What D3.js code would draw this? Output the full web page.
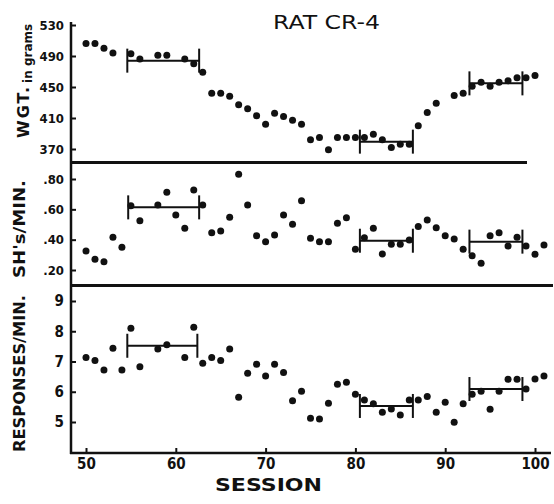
<!DOCTYPE html>
<html>
<head>
<script src="https://d3js.org/d3.v7.min.js"></script>
<style>
  body { margin: 0; background: #fff; }
  text { font-family: "DejaVu Sans", sans-serif; fill: #111; }
</style>
</head>
<body>
<div id="chart"></div>
<script>

// ---- data ----
var sessionTicks = [50, 60, 70, 80, 90, 100];

// body weight (grams)
var wgtSession = [50,51,52,53,55,56,58,59,61,62,63,64,65,66,67,68,69,70,71,72,73,74,75,76,77,78,79,80,81,82,83,84,85,86,87,88,89,91,92,93,94,95,96,97,98,99,100];
var wgtValue   = [506,506,500,494,493,486,491,491,486,480,469,442,442,438,427,422,413,402,416,412,407,402,382,385,369,385,385,385,385,389,382,372,376,376,400,417,429,439,442,451,456,451,456,458,462,462,465];
var wgtTicks = [370, 410, 450, 490, 530];
var wgtBars = [[54.6, 62.6, 484], [80.5, 86.4, 379.5], [92.7, 98.6, 454.7]];

// shocks per minute
var shSession = [50,51,52,53,54,55,56,58,59,60,61,62,63,64,65,66,67,68,69,70,71,72,73,74,75,76,77,78,79,80,81,82,83,84,85,86,87,88,89,90,91,92,93,94,95,96,97,98,99,100,101];
var shValue   = [.325,.271,.255,.416,.35,.624,.525,.629,.712,.563,.475,.727,.629,.446,.457,.547,.831,.629,.426,.387,.431,.563,.501,.657,.409,.387,.387,.508,.545,.336,.413,.475,.306,.369,.369,.398,.486,.53,.479,.426,.404,.336,.294,.244,.426,.446,.358,.416,.358,.304,.365];
var shTicks = [.2, .4, .6, .8];
var shBars = [[54.7, 62.6, .613], [80.5, 86.4, .393], [92.7, 98.6, .387]];

// responses per minute
var respSession = [50,51,52,53,54,55,56,58,59,61,62,63,64,65,66,67,68,69,70,71,72,73,74,75,76,77,78,79,80,81,82,83,84,85,86,87,88,89,90,91,92,93,94,95,96,97,98,99,100,101];
var respValue   = [7.13,7.03,6.72,7.44,6.72,8.10,6.83,7.41,7.55,7.13,8.13,6.94,7.13,7.03,7.41,5.82,6.61,6.91,6.52,6.91,6.64,5.70,6.02,5.12,5.10,5.62,6.25,6.31,5.92,5.73,5.60,5.32,5.43,5.23,5.73,5.73,5.84,5.32,5.65,4.99,5.60,5.92,6.02,5.42,6.02,6.41,6.41,6.09,6.42,6.52];
var respTicks = [5, 6, 7, 8, 9];
var respBars = [[54.6, 62.4, 7.52], [80.5, 86.4, 5.53], [92.7, 98.6, 6.09]];

var svg = d3.select("#chart")
  .append("svg")
  .attr("width", 554)
  .attr("height", 504);

var x = d3.scaleLinear().domain([50, 100]).range([86, 535]);

var panels = [
  { y: d3.scaleLinear().domain([370, 530]).range([149, 25]),
    s: wgtSession, v: wgtValue, ticks: wgtTicks, bars: wgtBars, size: "13px",
    fmt: function(d) { return d; } },
  { y: d3.scaleLinear().domain([.2, .8]).range([270, 179]),
    s: shSession, v: shValue, ticks: shTicks, bars: shBars, size: "13px",
    fmt: function(d) { return d3.format(".2f")(d).replace(/^0/, ""); } },
  { y: d3.scaleLinear().domain([5, 9]).range([422, 301]),
    s: respSession, v: respValue, ticks: respTicks, bars: respBars, size: "15px",
    fmt: function(d) { return d; } }
];

panels.forEach(function(p) {
  // y axis ticks point inward, labels on the left
  var g = svg.append("g")
    .attr("transform", "translate(71,0)")
    .call(d3.axisLeft(p.y).tickValues(p.ticks).tickSizeInner(-5).tickSizeOuter(0).tickPadding(7).tickFormat(p.fmt));
  g.select(".domain").remove();
  g.selectAll("line").attr("stroke", "#111").attr("stroke-width", 2);
  g.selectAll("text").style("font-size", p.size).style("font-weight", "bold")
    .style("font-stretch", "condensed").attr("fill", "#111");

  // mean brackets
  var b = svg.append("g").selectAll("g")
    .data(p.bars)
    .enter().append("g")
    .attr("stroke", "#111")
    .attr("stroke-width", 2);
  b.append("line")
    .attr("x1", function(d) { return x(d[0]); })
    .attr("x2", function(d) { return x(d[1]); })
    .attr("y1", function(d) { return p.y(d[2]); })
    .attr("y2", function(d) { return p.y(d[2]); });
  b.append("line")
    .attr("x1", function(d) { return x(d[0]); })
    .attr("x2", function(d) { return x(d[0]); })
    .attr("y1", function(d) { return p.y(d[2]) - 12; })
    .attr("y2", function(d) { return p.y(d[2]) + 12; });
  b.append("line")
    .attr("x1", function(d) { return x(d[1]); })
    .attr("x2", function(d) { return x(d[1]); })
    .attr("y1", function(d) { return p.y(d[2]) - 12; })
    .attr("y2", function(d) { return p.y(d[2]) + 12; });

  // dots
  svg.append("g").selectAll("circle")
    .data(p.s)
    .enter().append("circle")
    .attr("cx", function(d) { return x(d); })
    .attr("cy", function(d, i) { return p.y(p.v[i]); })
    .attr("r", 3.5)
    .attr("fill", "#111");
});

// frame: left axis, panel separators, bottom axis
svg.append("line").attr("x1", 71).attr("x2", 71).attr("y1", 22).attr("y2", 454)
  .attr("stroke", "#111").attr("stroke-width", 2.5);
svg.append("line").attr("x1", 70).attr("x2", 527).attr("y1", 162.5).attr("y2", 162.5)
  .attr("stroke", "#111").attr("stroke-width", 3);
svg.append("line").attr("x1", 70).attr("x2", 553).attr("y1", 285.5).attr("y2", 285.5)
  .attr("stroke", "#111").attr("stroke-width", 3);

var xg = svg.append("g")
  .attr("transform", "translate(0,453)")
  .call(d3.axisBottom(x).tickValues(sessionTicks).tickSizeInner(-5).tickSizeOuter(0).tickPadding(5));
xg.select(".domain").remove();
xg.selectAll("line").attr("stroke", "#111").attr("stroke-width", 2);
xg.selectAll("text").style("font-size", "15px").style("font-weight", "bold")
  .style("font-stretch", "condensed").attr("fill", "#111");
svg.append("line").attr("x1", 70).attr("x2", 551).attr("y1", 453).attr("y2", 453)
  .attr("stroke", "#111").attr("stroke-width", 2.5);

// titles
svg.append("text")
  .attr("x", 273).attr("y", 29)
  .attr("textLength", 107).attr("lengthAdjust", "spacingAndGlyphs")
  .style("font-size", "20px")
  .text("RAT CR-4");

svg.append("text")
  .attr("x", 215).attr("y", 491)
  .attr("textLength", 107).attr("lengthAdjust", "spacingAndGlyphs")
  .style("font-size", "18px").style("font-weight", "bold")
  .text("SESSION");

var wt = svg.append("text")
  .attr("transform", "translate(29,138) rotate(-90)")
  .style("font-weight", "bold");
wt.append("tspan").style("font-size", "16px").style("letter-spacing", "2px").text("WGT.");
wt.append("tspan").attr("dx", 2).attr("dy", 3).style("font-size", "12px").text("in grams");

svg.append("text")
  .attr("transform", "translate(25,278) rotate(-90)")
  .attr("textLength", 98).attr("lengthAdjust", "spacingAndGlyphs")
  .style("font-size", "15px").style("font-weight", "bold")
  .text("SH's/MIN.");

svg.append("text")
  .attr("transform", "translate(25,452) rotate(-90)")
  .attr("textLength", 157).attr("lengthAdjust", "spacingAndGlyphs")
  .style("font-size", "15px").style("font-weight", "bold")
  .text("RESPONSES/MIN.");

</script>
</body>
</html>
